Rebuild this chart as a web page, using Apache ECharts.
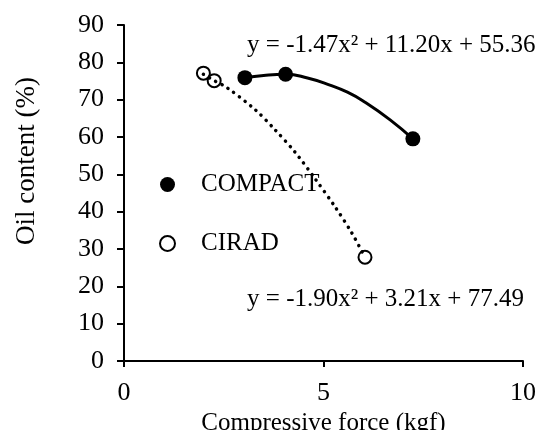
<!DOCTYPE html>
<html>
<head>
<meta charset="utf-8">
<script src="https://cdn.jsdelivr.net/npm/echarts@6/dist/echarts.min.js"></script>
<style>
  html, body { margin: 0; padding: 0; background: #fff; }
  #chart { width: 543px; height: 430px; }
</style>
</head>
<body>
<div id="chart"></div>
<script>
	var compactX = [3.03, 4.05, 7.24];
	var compactY = [75.9, 76.8, 59.5];
	var ciradX = [1.99, 2.26, 6.04];
	var ciradY = [77.1, 75.1, 27.8];
	// trend curves, points
	var compactTrendX = [3.03, 3.5, 4.05, 4.6, 5.16, 5.6, 6.0, 6.67, 7.24];
	var compactTrendY = [75.9, 76.5, 76.8, 75.8, 73.9, 72.0, 69.6, 64.6, 59.5];
	var ciradTrendX = [1.99, 2.26, 2.57, 3.28, 3.78, 4.29, 4.79, 5.29, 5.71, 6.04];
	var ciradTrendY = [76.8, 75.1, 73.3, 67.4, 62.0, 55.9, 48.8, 41.3, 34.3, 27.8];
	var xTicks = [0, 5, 10];
	var yTicks = [0, 10, 20, 30, 40, 50, 60, 70, 80, 90];
	var eqCompact = 'y = -1.47x² + 11.20x + 55.36';
	var eqCirad = 'y = -1.90x² + 3.21x + 77.49';

	function pairs(xs, ys) {
		var out = [];
		for (var i = 0; i < xs.length; i++) {
			out.push([xs[i], ys[i]]);
		}
		return out;
	}

	var font = 'Liberation Serif';
	var fs = 25;
	var dom = document.getElementById('chart');
	var myChart = echarts.init(dom);

	option = {
		animation: false,
		textStyle: { fontFamily: font, color: '#000' },
		grid: {
			left: 124,
			right: 20,
			top: 25,
			bottom: 69,
			containLabel: false,
			outerBoundsMode: 'none'
		},
		graphic: [{
			type: 'text',
			x: 27,
			y: 161,
			rotation: Math.PI / 2,
			style: {
				text: 'Oil content (%)',
				font: '27px ' + font,
				fill: '#000',
				align: 'center',
				verticalAlign: 'middle'
			}
		}],
		legend: {
			orient: 'vertical',
			left: 154,
			top: 167,
			itemGap: 34,
			itemWidth: 15,
			itemHeight: 15,
			textStyle: { fontFamily: font, fontSize: fs, color: '#000', padding: [0, 0, 0, 21] },
			data: [
				{ name: 'COMPACT', icon: 'circle' },
				{ name: 'CIRAD', icon: 'circle' }
			]
		},
		xAxis: {
			type: 'value',
			min: xTicks[0],
			max: xTicks[xTicks.length - 1],
			interval: 5,
			name: 'Compressive force (kgf)',
			nameLocation: 'middle',
			nameGap: 41,
			nameTextStyle: { fontFamily: font, fontSize: fs, color: '#000' },
			axisLine: { lineStyle: { color: '#000', width: 2 } },
			axisTick: { show: true, length: 6, lineStyle: { color: '#000', width: 2 } },
			axisLabel: { fontFamily: font, fontSize: 26, color: '#000', margin: 19 },
			splitLine: { show: false }
		},
		yAxis: {
			type: 'value',
			min: yTicks[0],
			max: yTicks[yTicks.length - 1],
			interval: 10,
			axisLine: { show: true, lineStyle: { color: '#000', width: 2 } },
			axisTick: { show: true, length: 7, lineStyle: { color: '#000', width: 2 } },
			axisLabel: { fontFamily: font, fontSize: 26, color: '#000', margin: 20 },
			splitLine: { show: false }
		},
		series: [{
			name: 'COMPACT trend',
			type: 'line',
			data: pairs(compactTrendX, compactTrendY),
			smooth: 0.5,
			showSymbol: false,
			lineStyle: { color: '#000', width: 3 },
			z: 1
		}, {
			name: 'CIRAD trend',
			type: 'line',
			data: pairs(ciradTrendX, ciradTrendY),
			smooth: 0.3,
			showSymbol: false,
			lineStyle: { color: '#000', width: 3.5, type: [0.1, 7], cap: 'round' },
			z: 1
		}, {
			name: 'COMPACT',
			type: 'scatter',
			data: pairs(compactX, compactY),
			symbol: 'circle',
			symbolSize: 15,
			itemStyle: { color: '#000', opacity: 1 },
			z: 3,
			markPoint: {
				symbol: 'rect',
				symbolSize: 0,
				label: {
					show: true,
					formatter: eqCompact,
					fontFamily: font,
					fontSize: fs,
					color: '#000',
					position: 'right'
				},
				data: [{ coord: [2.96, 84.6] }]
			}
		}, {
			name: 'CIRAD',
			type: 'scatter',
			data: pairs(ciradX, ciradY),
			symbol: 'circle',
			symbolSize: 13,
			itemStyle: { color: 'rgba(0,0,0,0)', borderColor: '#000', borderWidth: 2, opacity: 1 },
			z: 3,
			markPoint: {
				symbol: 'rect',
				symbolSize: 0,
				label: {
					show: true,
					formatter: eqCirad,
					fontFamily: font,
					fontSize: fs,
					color: '#000',
					position: 'right'
				},
				data: [{ coord: [2.96, 16.6] }]
			}
		}]
	};

	if (option && typeof option === "object") {
		myChart.setOption(option, true);
	}
</script>
</body>
</html>
